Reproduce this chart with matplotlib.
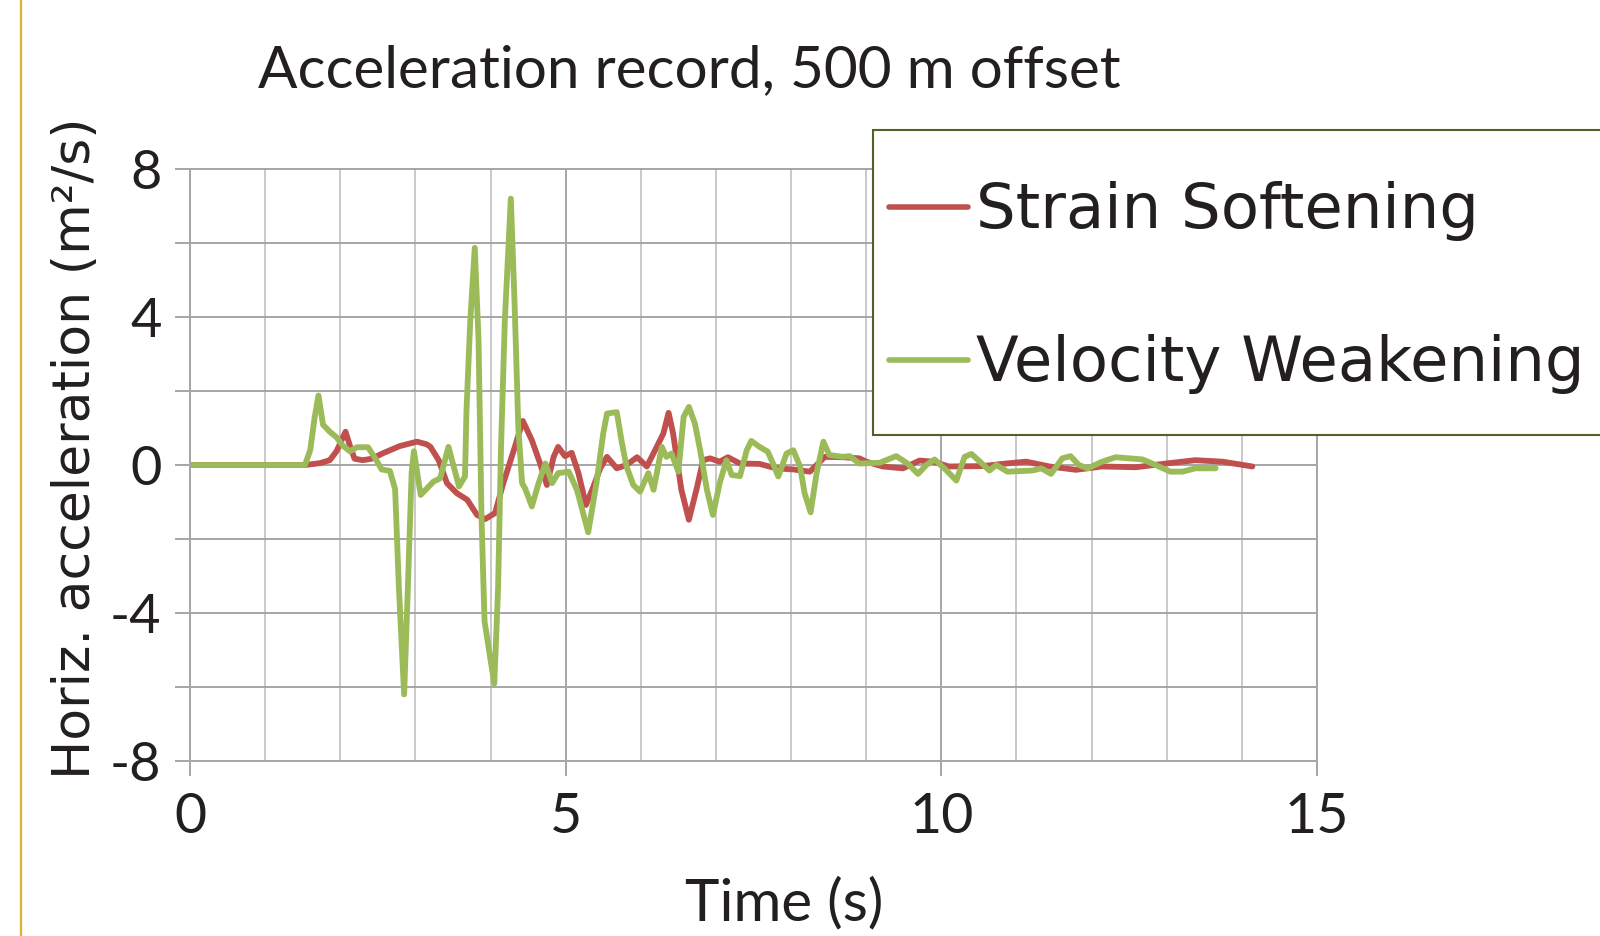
import matplotlib
matplotlib.use("Agg")
import matplotlib.pyplot as plt
from matplotlib.lines import Line2D
from matplotlib.patches import Rectangle
from matplotlib.ticker import MultipleLocator

plt.rcParams["axes.unicode_minus"] = False

# ---- data ----
ss_time = [0, 1.53, 1.73, 1.86, 1.95, 2.07, 2.13, 2.19, 2.3, 2.42, 2.57, 2.79, 3.02, 3.15,
           3.2, 3.31, 3.42, 3.55, 3.69, 3.82, 3.93, 4.06, 4.17, 4.31, 4.43, 4.55, 4.66,
           4.75, 4.84, 4.9, 4.99, 5.08, 5.17, 5.27, 5.37, 5.46, 5.55, 5.68, 5.81, 5.95,
           6.08, 6.19, 6.3, 6.37, 6.43, 6.54, 6.64, 6.74, 6.83, 6.92, 7.05, 7.16, 7.32,
           7.58, 7.8, 8.03, 8.25, 8.45, 8.69, 8.91, 9.0, 9.22, 9.49, 9.71, 9.89, 10.1,
           10.55, 10.86, 11.13, 11.44, 11.79, 12.14, 12.59, 12.99, 13.38, 13.74, 14.14]
ss_acc = [0, 0, 0.05, 0.13, 0.37, 0.9, 0.51, 0.17, 0.13, 0.17, 0.32, 0.51, 0.63, 0.56,
          0.49, 0.13, -0.49, -0.76, -0.94, -1.35, -1.46, -1.3, -0.49, 0.4, 1.19, 0.67, 0.04,
          -0.54, 0.22, 0.49, 0.24, 0.33, -0.22, -1.08, -0.58, -0.09, 0.22, -0.09, 0.0, 0.21,
          -0.04, 0.4, 0.85, 1.41, 0.85, -0.67, -1.48, -0.67, 0.13, 0.18, 0.09, 0.21, 0.04,
          0.03, -0.09, -0.12, -0.18, 0.22, 0.21, 0.18, 0.09, -0.04, -0.09, 0.12, 0.09, -0.04,
          -0.03, 0.04, 0.09, -0.04, -0.13, -0.04, -0.06, 0.04, 0.13, 0.09, -0.04]

vw_time = [0, 1.53, 1.6, 1.66, 1.71, 1.77, 1.86, 1.95, 2.04, 2.13, 2.22, 2.37, 2.48, 2.55,
           2.66, 2.73, 2.78, 2.85, 2.9, 2.95, 2.98, 3.07, 3.24, 3.33, 3.44, 3.58, 3.66,
           3.68, 3.73, 3.79, 3.84, 3.88, 3.92, 4.05, 4.1, 4.14, 4.19, 4.27, 4.32, 4.37,
           4.42, 4.46, 4.55, 4.64, 4.73, 4.82, 4.9, 5.04, 5.15, 5.3, 5.41, 5.5, 5.55,
           5.68, 5.75, 5.81, 5.9, 5.99, 6.1, 6.17, 6.28, 6.34, 6.41, 6.5, 6.57, 6.64,
           6.72, 6.79, 6.88, 6.96, 7.05, 7.14, 7.21, 7.32, 7.41, 7.47, 7.58, 7.69, 7.76,
           7.83, 7.94, 8.03, 8.12, 8.18, 8.26, 8.34, 8.43, 8.51, 8.69, 8.78, 8.91, 9.18,
           9.4, 9.55, 9.69, 9.8, 9.91, 10.06, 10.2, 10.31, 10.4, 10.53, 10.64, 10.73,
           10.88, 11.21, 11.33, 11.46, 11.61, 11.72, 11.83, 11.95, 12.14, 12.32, 12.68,
           12.85, 13.05, 13.21, 13.38, 13.65]
vw_acc = [0, 0, 0.4, 1.3, 1.88, 1.09, 0.9, 0.75, 0.51, 0.37, 0.48, 0.48, 0.13, -0.12,
          -0.16, -0.65, -3.3, -6.2, -3.3, -0.2, 0.37, -0.81, -0.45, -0.36, 0.49, -0.58, -0.31,
          1.48, 3.89, 5.87, 3.41, -1.42, -4.22, -5.91, -3.35, 0.51, 3.89, 7.2, 4.38, 1.0,
          -0.49, -0.63, -1.12, -0.49, 0.04, -0.49, -0.22, -0.18, -0.67, -1.82, -0.49, 0.85, 1.39,
          1.43, 0.58, -0.04, -0.54, -0.72, -0.22, -0.67, 0.49, 0.22, 0.31, -0.18, 1.3, 1.57,
          1.12, 0.4, -0.67, -1.35, -0.49, 0.13, -0.27, -0.3, 0.4, 0.65, 0.49, 0.36, 0.04,
          -0.31, 0.31, 0.4, -0.04, -0.76, -1.28, -0.22, 0.63, 0.27, 0.22, 0.24, 0.04, 0.06,
          0.24, 0.04, -0.24, 0.0, 0.15, -0.13, -0.42, 0.22, 0.3, 0.06, -0.15, 0.0,
          -0.18, -0.15, -0.09, -0.24, 0.18, 0.24, 0.0, -0.09, 0.09, 0.21, 0.15,
          0.0, -0.18, -0.18, -0.09, -0.09]

series_labels = ["Strain Softening", "Velocity Weakening"]
series_colors = ["#C0504D", "#9BBB59"]
title_text = "Acceleration record, 500 m offset"
xlabel_text = "Time (s)"
ylabel_text = "Horiz. acceleration (m\u00b2/s)"
x_ticks = [0, 5, 10, 15]
y_ticks = [-8, -4, 0, 4, 8]

# ---- figure ----
W, H = 1600, 936
fig = plt.figure(figsize=(W / 100, H / 100), dpi=100)
fig.patch.set_facecolor("white")

def fx(px):
    return px / W

def fy(py):
    return 1 - py / H

ax = fig.add_axes([fx(190), fy(761), fx(1317) - fx(190), fy(169) - fy(761)])
ax.set_xlim(0, 15)
ax.set_ylim(-8, 8)

grid_dark = "#A6A6A6"
grid_light = "#C9C9C9"
text_col = "#231F20"

ax.xaxis.set_major_locator(MultipleLocator(5))
ax.xaxis.set_minor_locator(MultipleLocator(1))
ax.yaxis.set_major_locator(MultipleLocator(4))
ax.yaxis.set_minor_locator(MultipleLocator(2))
ax.set_xticks(x_ticks)
ax.set_yticks(y_ticks)

ax.grid(which="minor", axis="x", color=grid_light, lw=1.4)
ax.grid(which="major", axis="x", color=grid_dark, lw=1.4)
ax.grid(which="both", axis="y", color=grid_dark, lw=1.4)
ax.set_axisbelow(True)
for s in ax.spines.values():
    s.set_color(grid_dark)
    s.set_linewidth(1.4)

ax.tick_params(axis="y", which="both", direction="out", length=10.5, width=1.4,
               color=grid_dark, pad=10, labelsize=39, labelcolor=text_col)
ax.tick_params(axis="x", which="major", direction="out", length=10.5, width=1.4,
               color=grid_dark, pad=12, labelsize=40, labelcolor=text_col)
ax.tick_params(axis="x", which="minor", length=0)
for lab in ax.get_xticklabels() + ax.get_yticklabels():
    lab.set_fontfamily("Lato")

lines = []
for t, a, c in [(ss_time, ss_acc, series_colors[0]), (vw_time, vw_acc, series_colors[1])]:
    ln, = ax.plot(t, a, color=c, lw=4.2, solid_joinstyle="round", solid_capstyle="round")
    lines.append(ln)

# title / axis labels
fig.text(fx(689), fy(87), title_text, ha="center", va="baseline",
         fontsize=42, family="Lato", color=text_col)
fig.text(fx(784), fy(920), xlabel_text, ha="center", va="baseline",
         fontsize=42, family="Lato", color=text_col)
fig.text(fx(76), fy(448), ylabel_text, ha="center", va="center", rotation=90,
         fontsize=37.5, family="DejaVu Sans", color=text_col)

# left decorative rule
fig.add_artist(Line2D([fx(21), fx(21)], [0, 1], color="#DDB22F", lw=1.6,
                      transform=fig.transFigure))

# legend box (runs off the right edge, as in the reference)
fig.add_artist(Rectangle((fx(873), fy(435)), fx(1660) - fx(873), fy(130) - fy(435),
                         transform=fig.transFigure, facecolor="white",
                         edgecolor="#4F6228", lw=1.5, zorder=5))
for i, (lab, ln) in enumerate(zip(series_labels, lines)):
    yc = 207 + i * 153
    fig.add_artist(Line2D([fx(889), fx(968)], [fy(yc), fy(yc)], color=ln.get_color(),
                          lw=4.0, solid_capstyle="round", transform=fig.transFigure,
                          zorder=6))
    fig.text(fx(976), fy(228 + i * 153.5), lab, ha="left", va="baseline",
             fontsize=45, family="DejaVu Sans", color=text_col, zorder=6)

fig.savefig("out.png", dpi=100)
